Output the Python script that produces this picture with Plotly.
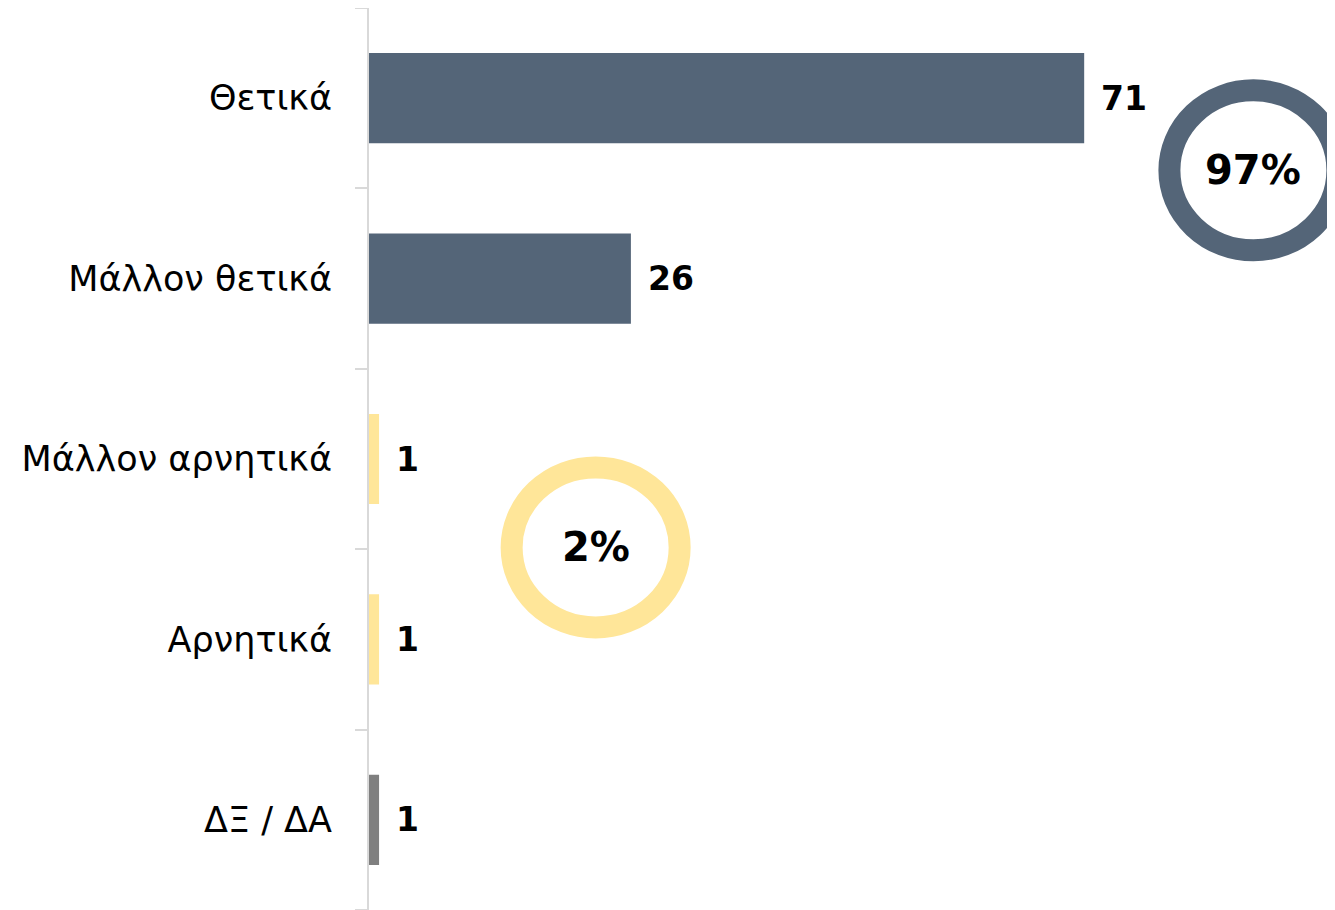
import plotly.graph_objects as go

categories = ["ΔΞ / ΔΑ", "Αρνητικά", "Μάλλον αρνητικά", "Μάλλον θετικά", "Θετικά"]
values = [1, 1, 1, 26, 71]
colors = ["#7f7f7f", "#FFE699", "#FFE699", "#546578", "#546578"]
ring_labels = ["97%", "2%"]
ring_colors = ["#546578", "#FFE699"]
ring_x = [87.8, 22.5]
ring_y = [3.6, 1.51]

FONT = "Century Gothic, DejaVu Sans, sans-serif"

fig = go.Figure(go.Bar(
    y=categories, x=values, orientation="h",
    marker=dict(color=colors, line=dict(width=0)),
    width=0.5,
))

for c, v in zip(categories, values):
    fig.add_annotation(x=v, y=c, text=f"<b>{v}</b>", showarrow=False,
                       xanchor="left", xshift=15,
                       font=dict(family=FONT, size=33, color="#000000"))

for lbl, col, cx, cy in zip(ring_labels, ring_colors, ring_x, ring_y):
    fig.add_shape(type="circle", xref="x", yref="y",
                  xsizemode="pixel", ysizemode="pixel",
                  xanchor=cx, yanchor=cy,
                  x0=-84, x1=84, y0=-80, y1=80,
                  line=dict(color=col, width=22), fillcolor="rgba(0,0,0,0)",
                  layer="below")
    fig.add_annotation(x=cx, y=cy, text=f"<b>{lbl}</b>", showarrow=False,
                       xref="x", yref="y",
                       font=dict(family=FONT, size=40, color="#000000"))

fig.update_layout(
    width=1327, height=902,
    margin=dict(l=361, r=0, t=0, b=0),
    plot_bgcolor="white", paper_bgcolor="white",
    showlegend=False,
    xaxis=dict(range=[0, 95.9], visible=False, fixedrange=True),
    yaxis=dict(
        type="category", categoryorder="array", categoryarray=categories,
        range=[-0.5, 4.5],
        showline=True, linecolor="#d9d9d9", linewidth=2,
        ticks="outside", tickson="boundaries", ticklen=12,
        tickcolor="#d9d9d9", tickwidth=2,
        ticklabelstandoff=28,
        showgrid=False, zeroline=False,
        tickfont=dict(family=FONT, size=35, color="#000000"),
    ),
)

fig.write_html("out.html")
